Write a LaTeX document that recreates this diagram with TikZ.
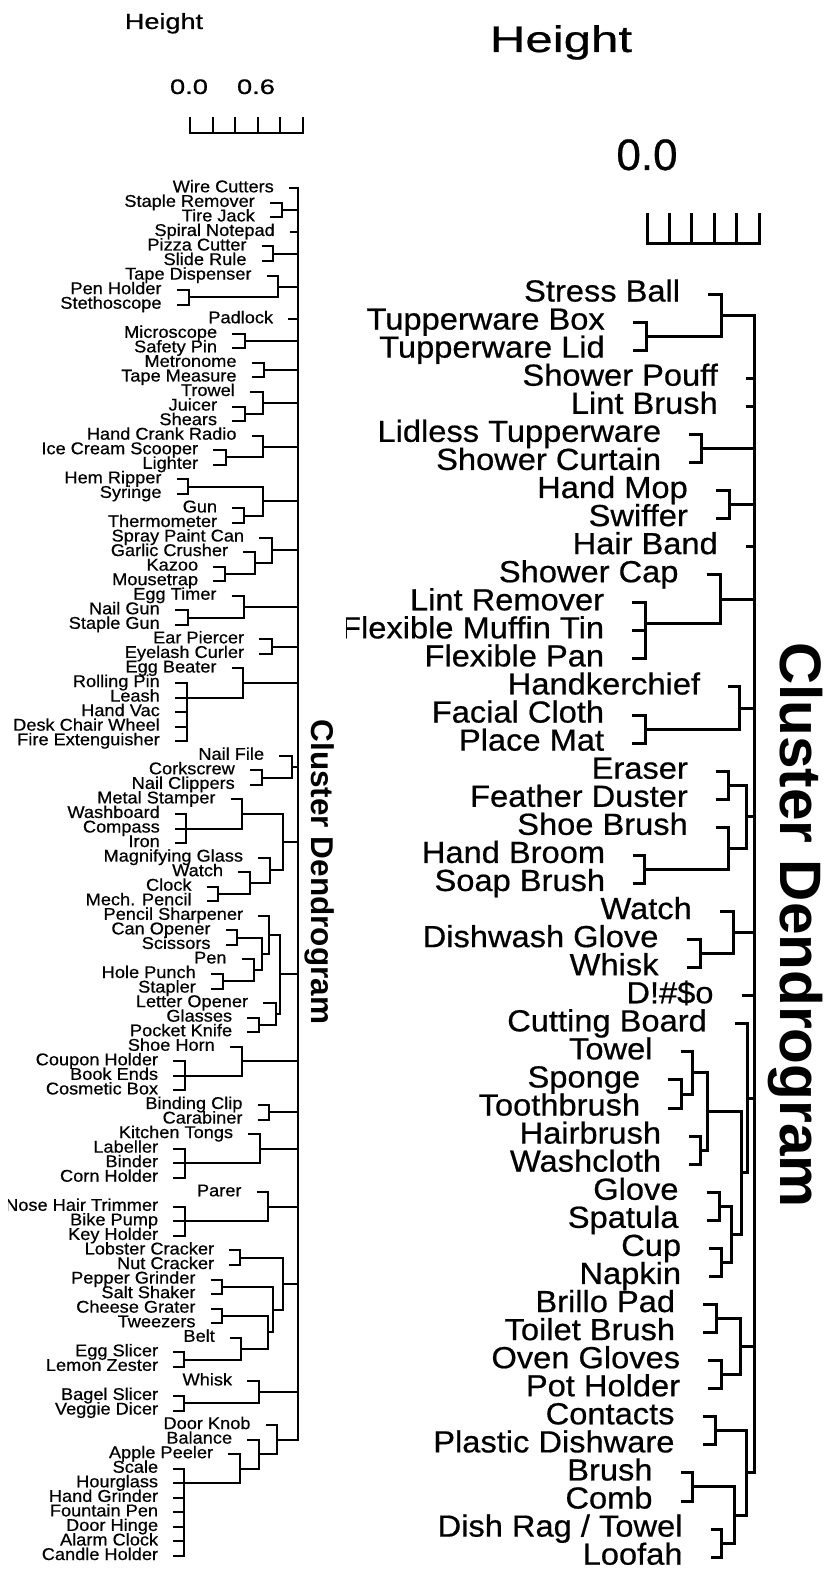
\documentclass[tikz,border=0pt]{standalone}
\usepackage{fontspec}
\usepackage{graphicx}
\setmainfont{Liberation Sans}
\newfontfamily\labf[FakeStretch=1.07,FakeBold=0.6]{Liberation Sans}
\newfontfamily\hdf[FakeBold=0.6]{Liberation Sans}
\usetikzlibrary{calc}
\newcommand\lleaf[3]{%
  \coordinate (L#1) at (#2,{188.3+14.55*(#1-1)});
  \node[llab] (L#1t) at ([shift={(-15,4)}]L#1) {#3};}
\newcommand\rleaf[3]{%
  \coordinate (R#1) at (#2,{294+28.07*(#1-1)});
  \node[rlab] (R#1t) at ([shift={(-28,7.5)}]R#1) {#3};}
\newcommand\mrg[5]{%
  \coordinate (#2m) at ($(#4)!.5!(#5)$);
  \coordinate (#2) at (#3,0 |- #2m);
  \draw[#1] (#4) -- (#4 -| #2) -- (#5 -| #2) -- (#5);}
\newcommand\grp[6]{%
  \coordinate (#2) at (#3,0 |- #4);
  \draw[#1] (#5) -- (#5 -| #2) -- (#6 -| #2) -- (#6);}
\newcommand\tk[3]{\draw[#1] (#2) -- (#2 -| #3);}
\tikzset{
  ll/.style={line width=2pt},
  rl/.style={line width=3pt},
  llab/.style={anchor=base east, inner sep=0pt, font=\labf\fontsize{17}{17}\selectfont},
  rlab/.style={anchor=base east, inner sep=0pt, font=\labf\fontsize{30.5}{30.5}\selectfont},
  hdr/.style={anchor=base, inner sep=0pt},
  ttl/.style={rotate=-90, anchor=base, inner sep=0pt}
}
\begin{document}
\begin{tikzpicture}[x=1pt,y=-1pt,line join=miter]
\fill[white] (0,0) rectangle (825,1570);
\useasboundingbox (0,0) rectangle (825,1570);

% ---------- headers and axes ----------
\node[hdr,font=\hdf\fontsize{22}{22}\selectfont] (hL) at (164,29) {\scalebox{1.23}[1]{Height}};
\node[hdr,font=\hdf\fontsize{21}{21}\selectfont] (z0L) at (189,94) {\scalebox{1.3}[1]{0.0}};
\node[hdr,font=\hdf\fontsize{21}{21}\selectfont] (z6L) at (256,94) {\scalebox{1.3}[1]{0.6}};
\draw[ll] (190,117) -- (190,133) -- (303,133) -- (303,117);
\foreach \t in {212.6,235.2,257.8,280.4} \draw[ll] (\t,133) -- (\t,117);

\node[hdr,font=\hdf\fontsize{37}{37}\selectfont] (hR) at (561,52) {\scalebox{1.33}[1]{Height}};
\node[hdr,font=\hdf\fontsize{44}{44}\selectfont] (z0R) at (647,170) {0.0};
\draw[rl] (647,213) -- (647,244) -- (759,244) -- (759,213);
\foreach \t in {669.4,691.8,714.2,736.6} \draw[rl] (\t,244) -- (\t,213);

\node[ttl,font=\bfseries\fontsize{31.5}{31.5}\selectfont] (ttlL) at (311,872) {Cluster Dendrogram};
\node[ttl,font=\bfseries\fontsize{58.5}{58.5}\selectfont] (ttlR) at (780,925) {Cluster Dendrogram};

% ---------- left dendrogram ----------
\begin{scope}
\clip (8,150) rectangle (345,1570);
\lleaf{1}{289}{Wire Cutters}
\lleaf{2}{270}{Staple Remover}
\lleaf{3}{270}{Tire Jack}
\lleaf{4}{290}{Spiral Notepad}
\lleaf{5}{261.7}{Pizza Cutter}
\lleaf{6}{261.7}{Slide Rule}
\lleaf{7}{266.7}{Tape Dispenser}
\lleaf{8}{176.7}{Pen Holder}
\lleaf{9}{176.7}{Stethoscope}
\lleaf{10}{288.3}{Padlock}
\lleaf{11}{232.3}{Microscope}
\lleaf{12}{232.3}{Safety Pin}
\lleaf{13}{251.7}{Metronome}
\lleaf{14}{251.7}{Tape Measure}
\lleaf{15}{250}{Trowel}
\lleaf{16}{232.3}{Juicer}
\lleaf{17}{232.3}{Shears}
\lleaf{18}{251.7}{Hand Crank Radio}
\lleaf{19}{213.3}{Ice Cream Scooper}
\lleaf{20}{213.3}{Lighter}
\lleaf{21}{176.7}{Hem Ripper}
\lleaf{22}{176.7}{Syringe}
\lleaf{23}{232.3}{Gun}
\lleaf{24}{232.3}{Thermometer}
\lleaf{25}{259.3}{Spray Paint Can}
\lleaf{26}{243.3}{Garlic Crusher}
\lleaf{27}{213.3}{Kazoo}
\lleaf{28}{213.3}{Mousetrap}
\lleaf{29}{231.7}{Egg Timer}
\lleaf{30}{175}{Nail Gun}
\lleaf{31}{175}{Staple Gun}
\lleaf{32}{259.3}{Ear Piercer}
\lleaf{33}{259.3}{Eyelash Curler}
\lleaf{34}{231.7}{Egg Beater}
\lleaf{35}{175}{Rolling Pin}
\lleaf{36}{175}{Leash}
\lleaf{37}{175}{Hand Vac}
\lleaf{38}{175}{Desk Chair Wheel}
\lleaf{39}{175}{Fire Extenguisher}
\lleaf{40}{279.3}{Nail File}
\lleaf{41}{250}{Corkscrew}
\lleaf{42}{250}{Nail Clippers}
\lleaf{43}{230.7}{Metal Stamper}
\lleaf{44}{175}{Washboard}
\lleaf{45}{175}{Compass}
\lleaf{46}{175}{Iron}
\lleaf{47}{258.3}{Magnifying Glass}
\lleaf{48}{238.3}{Watch}
\lleaf{49}{206.7}{Clock}
\lleaf{50}{206.7}{Mech. Pencil}
\lleaf{51}{258.3}{Pencil Sharpener}
\lleaf{52}{225.7}{Can Opener}
\lleaf{53}{225.7}{Scissors}
\lleaf{54}{241.7}{Pen}
\lleaf{55}{211}{Hole Punch}
\lleaf{56}{211}{Stapler}
\lleaf{57}{263.3}{Letter Opener}
\lleaf{58}{247.3}{Glasses}
\lleaf{59}{247.3}{Pocket Knife}
\lleaf{60}{230}{Shoe Horn}
\lleaf{61}{173.3}{Coupon Holder}
\lleaf{62}{173.3}{Book Ends}
\lleaf{63}{173.3}{Cosmetic Box}
\lleaf{64}{257.7}{Binding Clip}
\lleaf{65}{257.7}{Carabiner}
\lleaf{66}{248.3}{Kitchen Tongs}
\lleaf{67}{173.3}{Labeller}
\lleaf{68}{173.3}{Binder}
\lleaf{69}{173.3}{Corn Holder}
\lleaf{70}{256.7}{Parer}
\lleaf{71}{173.3}{Nose Hair Trimmer}
\lleaf{72}{173.3}{Bike Pump}
\lleaf{73}{173.3}{Key Holder}
\lleaf{74}{229.3}{Lobster Cracker}
\lleaf{75}{229.3}{Nut Cracker}
\lleaf{76}{210.7}{Pepper Grinder}
\lleaf{77}{210.7}{Salt Shaker}
\lleaf{78}{210.7}{Cheese Grater}
\lleaf{79}{210.7}{Tweezers}
\lleaf{80}{230}{Belt}
\lleaf{81}{173.3}{Egg Slicer}
\lleaf{82}{173.3}{Lemon Zester}
\lleaf{83}{247.3}{Whisk}
\lleaf{84}{173.3}{Bagel Slicer}
\lleaf{85}{173.3}{Veggie Dicer}
\lleaf{86}{265.7}{Door Knob}
\lleaf{87}{247.3}{Balance}
\lleaf{88}{228.3}{Apple Peeler}
\lleaf{89}{173.3}{Scale}
\lleaf{90}{173.3}{Hourglass}
\lleaf{91}{173.3}{Hand Grinder}
\lleaf{92}{173.3}{Fountain Pen}
\lleaf{93}{173.3}{Door Hinge}
\lleaf{94}{173.3}{Alarm Clock}
\lleaf{95}{173.3}{Candle Holder}

\mrg{ll}{a1}{281.7}{L2}{L3}
\mrg{ll}{a2}{273.3}{L5}{L6}
\mrg{ll}{a3}{189.3}{L8}{L9}
\mrg{ll}{a4}{277.7}{L7}{a3}
\mrg{ll}{a5}{245}{L11}{L12}
\mrg{ll}{a6}{264.3}{L13}{L14}
\mrg{ll}{a7}{245}{L16}{L17}
\mrg{ll}{a8}{263.3}{L15}{a7}
\mrg{ll}{a9}{225.7}{L19}{L20}
\mrg{ll}{a10}{263.3}{L18}{a9}
\mrg{ll}{a11}{188.3}{L21}{L22}
\mrg{ll}{a12}{244.3}{L23}{L24}
\mrg{ll}{a13}{263.3}{a11}{a12}
\mrg{ll}{a14}{225}{L27}{L28}
\mrg{ll}{a15}{255}{L26}{a14}
\mrg{ll}{a16}{271.7}{L25}{a15}
\mrg{ll}{a17}{187.7}{L30}{L31}
\mrg{ll}{a18}{244.3}{L29}{a17}
\mrg{ll}{a19}{271.7}{L32}{L33}
\grp{ll}{a20}{187.3}{L36}{L35}{L39}
\tk{ll}{L36}{a20}\tk{ll}{L37}{a20}\tk{ll}{L38}{a20}
\mrg{ll}{a21}{243.3}{L34}{a20}
\mrg{ll}{a22}{261.7}{L41}{L42}
\mrg{ll}{a23}{291.7}{L40}{a22}
\grp{ll}{a24}{186}{L45}{L44}{L46}
\tk{ll}{L45}{a24}
\mrg{ll}{a25}{242.3}{L43}{a24}
\mrg{ll}{a26}{218.3}{L49}{L50}
\mrg{ll}{a27}{250}{L48}{a26}
\mrg{ll}{a28}{270}{L47}{a27}
\mrg{ll}{a29}{283.3}{a25}{a28}
\mrg{ll}{a30}{237.3}{L52}{L53}
\mrg{ll}{a31}{222.7}{L55}{L56}
\mrg{ll}{a32}{254}{L54}{a31}
\mrg{ll}{a33}{261.7}{a30}{a32}
\mrg{ll}{a34}{269.3}{L51}{a33}
\mrg{ll}{a35}{259}{L58}{L59}
\mrg{ll}{a36}{275.7}{L57}{a35}
\mrg{ll}{a37}{280}{a34}{a36}
\grp{ll}{a38}{185}{L62}{L61}{L63}
\tk{ll}{L62}{a38}
\mrg{ll}{a39}{241.7}{L60}{a38}
\mrg{ll}{a40}{269.3}{L64}{L65}
\grp{ll}{a41}{185}{L68}{L67}{L69}
\tk{ll}{L68}{a41}
\mrg{ll}{a42}{260}{L66}{a41}
\grp{ll}{a43}{185}{L72}{L71}{L73}
\tk{ll}{L72}{a43}
\mrg{ll}{a44}{268.3}{L70}{a43}
\mrg{ll}{a45}{240}{L74}{L75}
\mrg{ll}{a46}{221.7}{L76}{L77}
\mrg{ll}{a47}{221.7}{L78}{L79}
\mrg{ll}{a48}{184.3}{L81}{L82}
\mrg{ll}{a49}{241}{L80}{a48}
\mrg{ll}{a50}{268.3}{a47}{a49}
\mrg{ll}{a51}{273.3}{a46}{a50}
\mrg{ll}{a52}{282.7}{a45}{a51}
\mrg{ll}{a53}{184.3}{L84}{L85}
\mrg{ll}{a54}{259}{L83}{a53}
\grp{ll}{a55}{184.3}{L90}{L89}{L95}
\foreach \c in {L90,L91,L92,L93,L94} {\tk{ll}{\c}{a55}}
\mrg{ll}{a56}{240}{L88}{a55}
\mrg{ll}{a57}{259}{L87}{a56}
\mrg{ll}{a58}{277.3}{L86}{a57}
\grp{ll}{rootL}{298}{L1}{L1}{a58}
\foreach \c in {a1,L4,a2,a4,L10,a5,a6,a8,a10,a13,a16,a18,a19,a21,a23,a29,a37,a39,a40,a42,a44,a52,a54} {\tk{ll}{\c}{rootL}}
\end{scope}

% ---------- right dendrogram ----------
\begin{scope}
\clip (346,260) rectangle (825,1570);
\rleaf{1}{708.3}{Stress Ball}
\rleaf{2}{633}{Tupperware Box}
\rleaf{3}{633}{Tupperware Lid}
\rleaf{4}{746}{Shower Pouff}
\rleaf{5}{746}{Lint Brush}
\rleaf{6}{689.3}{Lidless Tupperware}
\rleaf{7}{689.3}{Shower Curtain}
\rleaf{8}{716}{Hand Mop}
\rleaf{9}{716}{Swiffer}
\rleaf{10}{746}{Hair Band}
\rleaf{11}{706.7}{Shower Cap}
\rleaf{12}{632.3}{Lint Remover}
\rleaf{13}{632.3}{Flexible Muffin Tin}
\rleaf{14}{632.3}{Flexible Pan}
\rleaf{15}{728.3}{Handkerchief}
\rleaf{16}{632.3}{Facial Cloth}
\rleaf{17}{632.3}{Place Mat}
\rleaf{18}{716}{Eraser}
\rleaf{19}{716}{Feather Duster}
\rleaf{20}{716}{Shoe Brush}
\rleaf{21}{633.3}{Hand Broom}
\rleaf{22}{633.3}{Soap Brush}
\rleaf{23}{720}{Watch}
\rleaf{24}{686.7}{Dishwash Glove}
\rleaf{25}{686.7}{Whisk}
\rleaf{26}{741.7}{D!\#\$o}
\rleaf{27}{735}{Cutting Board}
\rleaf{28}{680.7}{Towel}
\rleaf{29}{668.3}{Sponge}
\rleaf{30}{668.3}{Toothbrush}
\rleaf{31}{689.3}{Hairbrush}
\rleaf{32}{689.3}{Washcloth}
\rleaf{33}{706.7}{Glove}
\rleaf{34}{706.7}{Spatula}
\rleaf{35}{709.3}{Cup}
\rleaf{36}{709.3}{Napkin}
\rleaf{37}{703.3}{Brillo Pad}
\rleaf{38}{703.3}{Toilet Brush}
\rleaf{39}{708.3}{Oven Gloves}
\rleaf{40}{708.3}{Pot Holder}
\rleaf{41}{702.7}{Contacts}
\rleaf{42}{702.7}{Plastic Dishware}
\rleaf{43}{680.7}{Brush}
\rleaf{44}{680.7}{Comb}
\rleaf{45}{710.7}{Dish Rag / Towel}
\rleaf{46}{710.7}{Loofah}

\mrg{rl}{b1}{646}{R2}{R3}
\mrg{rl}{b2}{721.7}{R1}{b1}
\mrg{rl}{b3}{701.7}{R6}{R7}
\mrg{rl}{b4}{729.3}{R8}{R9}
\mrg{rl}{b5}{645}{R13}{R14}
\mrg{rl}{b6}{645}{R12}{b5}
\mrg{rl}{b7}{720}{R11}{b6}
\mrg{rl}{b8}{645}{R16}{R17}
\mrg{rl}{b9}{739.3}{R15}{b8}
\mrg{rl}{b10}{728.3}{R18}{R19}
\mrg{rl}{b11}{644.3}{R21}{R22}
\mrg{rl}{b12}{728.3}{R20}{b11}
\mrg{rl}{b13}{746}{b10}{b12}
\mrg{rl}{b14}{700}{R24}{R25}
\mrg{rl}{b15}{733.3}{R23}{b14}
\mrg{rl}{b16}{681.7}{R29}{R30}
\mrg{rl}{b17}{692.7}{R28}{b16}
\mrg{rl}{b18}{700}{R31}{R32}
\mrg{rl}{b19}{707.7}{b17}{b18}
\mrg{rl}{b20}{719.3}{R33}{R34}
\mrg{rl}{b21}{721}{R35}{R36}
\mrg{rl}{b22}{731.7}{b20}{b21}
\mrg{rl}{b23}{741.7}{b19}{b22}
\mrg{rl}{b24}{747.3}{R27}{b23}
\mrg{rl}{b25}{716.7}{R37}{R38}
\mrg{rl}{b26}{721}{R39}{R40}
\mrg{rl}{b27}{740}{b25}{b26}
\mrg{rl}{b28}{715}{R41}{R42}
\mrg{rl}{b29}{692.3}{R43}{R44}
\mrg{rl}{b30}{721.7}{R45}{R46}
\mrg{rl}{b31}{734}{b29}{b30}
\mrg{rl}{b32}{746}{b28}{b31}
\grp{rl}{rootR}{754}{b2}{b2}{b32}
\foreach \c in {R4,R5,b3,b4,R10,b7,b9,b13,b15,R26,b24,b27} {\tk{rl}{\c}{rootR}}
\end{scope}
\end{tikzpicture}
\end{document}
